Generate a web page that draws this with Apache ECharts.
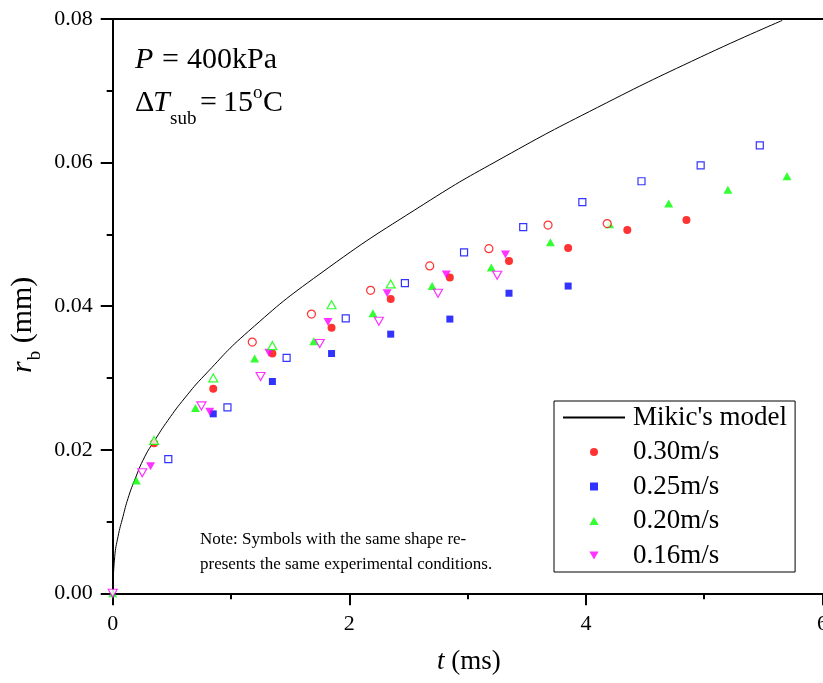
<!DOCTYPE html>
<html>
<head>
<meta charset="utf-8">
<script src="https://cdn.jsdelivr.net/npm/echarts@6/dist/echarts.min.js"></script>
<style>
html,body{margin:0;padding:0;background:#fff;}
#chart{width:823px;height:683px;}
</style>
</head>
<body>
<div id="chart"></div>
<script>
// ---- data (t in ms, r_b in mm) ----
const xTicks = [0, 2, 4, 6];
const yTicks = [0, 0.02, 0.04, 0.06, 0.08];

const mikicT = [0, 0.017, 0.045, 0.087, 0.129, 0.186, 0.27, 0.355, 0.467, 0.609, 0.778, 1.148, 1.752, 2.63, 3.3, 4.1, 4.97, 5.66];
const mikicR = [0, 0.0051, 0.0079, 0.0107, 0.0132, 0.0158, 0.019, 0.0213, 0.0241, 0.0272, 0.0304, 0.0365, 0.0445, 0.0542, 0.0607, 0.0677, 0.0747, 0.0798];

// 0.30 m/s
const t030 = [0.35, 0.85, 1.35, 1.85, 2.35, 2.85, 3.35, 3.85, 4.35, 4.85];
const r030 = [0.0209, 0.0285, 0.0334, 0.0370, 0.0410, 0.0440, 0.0463, 0.0481, 0.0506, 0.0520];
const t030o = [1.18, 1.68, 2.18, 2.68, 3.18, 3.68, 4.18];
const r030o = [0.0350, 0.0389, 0.0422, 0.0456, 0.0480, 0.0513, 0.0515];

// 0.25 m/s
const t025 = [0.85, 1.35, 1.85, 2.35, 2.85, 3.35, 3.85];
const r025 = [0.0250, 0.0295, 0.0334, 0.0361, 0.0382, 0.0418, 0.0428];
const t025o = [0.47, 0.97, 1.47, 1.97, 2.47, 2.97, 3.47, 3.97, 4.47, 4.97, 5.47];
const r025o = [0.0187, 0.0259, 0.0328, 0.0383, 0.0432, 0.0475, 0.0510, 0.0545, 0.0574, 0.0596, 0.0624];

// 0.20 m/s
const t020 = [0, 0.2, 0.7, 1.2, 1.7, 2.2, 2.7, 3.2, 3.7, 4.2, 4.7, 5.2, 5.7];
const r020 = [0, 0.0157, 0.0258, 0.0327, 0.0351, 0.0390, 0.0428, 0.0454, 0.0489, 0.0514, 0.0543, 0.0562, 0.0581];
const t020o = [0.35, 0.85, 1.35, 1.85, 2.35];
const r020o = [0.0213, 0.0300, 0.0345, 0.0402, 0.0431];

// 0.16 m/s
const t016 = [0.32, 0.82, 1.32, 1.82, 2.32, 2.82, 3.32];
const r016 = [0.0177, 0.0253, 0.0335, 0.0378, 0.0418, 0.0444, 0.0472];
const t016o = [0, 0.25, 0.75, 1.25, 1.75, 2.25, 2.75, 3.25];
const r016o = [0, 0.0168, 0.0261, 0.0302, 0.0348, 0.0379, 0.0418, 0.0443];

const legendNames = ["Mikic's model", '0.30m/s', '0.25m/s', '0.20m/s', '0.16m/s'];

// ---- helpers ----
const FF = '"Liberation Serif", "Times New Roman", serif';
const zip = (xs, ys) => xs.map((x, i) => [x, ys[i]]);
const mctx = document.createElement('canvas').getContext('2d');
function fontStr(size, italic) { return (italic ? 'italic ' : '') + size + 'px ' + FF; }
function run(x, baseline, parts) {
  let cx = x;
  return parts.map(p => {
    const f = fontStr(p.size, p.italic);
    mctx.font = f;
    const w = mctx.measureText(p.t).width;
    const px = (p.at !== undefined) ? x + p.at : cx;
    const el = {
      type: 'text', x: px, y: baseline + (p.dy || 0) - 0.3375 * p.size, z: 100,
      style: { text: p.t, font: f, fill: '#000', align: 'left', verticalAlign: 'middle' }
    };
    cx = px + w + (p.gap || 0);
    return el;
  });
}

const scatterBase = (name, data, symbol, size, color, opts) => Object.assign({
  name, type: 'scatter', data, symbol, symbolSize: size,
  itemStyle: { color: color }, z: 3
}, opts || {});
const openStyle = c => ({ itemStyle: { color: '#fff', borderColor: c, borderWidth: 1.2 }, z: 4 });

const RED = '#ff0000', BLUE = '#0000ff', GREEN = '#00ff00', MAG = '#ff00ff';
const ICON_SQ = 'path://M0,0L1,0L1,1L0,1Z';
const ICON_UP = 'path://M0.5,0L1,0.87L0,0.87Z';
const ICON_DN = 'path://M0,0L1,0L0.5,0.87Z';

const chart = echarts.init(document.getElementById('chart'), null, { renderer: 'canvas' });

const option = {
  animation: false,
  backgroundColor: '#fff',
  grid: { left: 112.7, right: 0.5, top: 19, bottom: 89.7, outerBoundsMode: 'none', containLabel: false },
  xAxis: [{
    type: 'value', min: xTicks[0], max: xTicks[xTicks.length - 1], interval: 2,
    axisLine: { show: true, onZero: false, lineStyle: { color: '#000', width: 2 } },
    axisTick: { show: true, length: 12, lineStyle: { color: '#000', width: 2 } },
    minorTick: { show: true, splitNumber: 2, length: 6, lineStyle: { color: '#000', width: 2 } },
    splitLine: { show: false },
    axisLabel: { margin: 20, fontFamily: FF, fontSize: 22, color: '#000', showMaxLabel: true, hideOverlap: false }
  }, {
    type: 'value', position: 'top', min: xTicks[0], max: xTicks[xTicks.length - 1],
    axisLine: { show: true, onZero: false, lineStyle: { color: '#000', width: 2 } },
    axisTick: { show: false }, axisLabel: { show: false }, splitLine: { show: false }
  }],
  yAxis: {
    type: 'value', min: yTicks[0], max: yTicks[yTicks.length - 1], interval: 0.02,
    axisLine: { show: true, onZero: false, lineStyle: { color: '#000', width: 2 } },
    axisTick: { show: true, length: 12, lineStyle: { color: '#000', width: 2 } },
    minorTick: { show: true, splitNumber: 2, length: 6, lineStyle: { color: '#000', width: 2 } },
    splitLine: { show: false },
    axisLabel: { margin: 20, fontFamily: FF, fontSize: 22, color: '#000', formatter: v => v.toFixed(2) }
  },
  legend: {
    orient: 'vertical', left: 554, top: 401,
    padding: [2, 8, 2, 8], itemWidth: 62, itemHeight: 8, itemGap: 5.5,
    borderColor: '#000', borderWidth: 1, backgroundColor: '#fff',
    symbolKeepAspect: true,
    textStyle: { fontFamily: FF, fontSize: 27, color: '#000', lineHeight: 29, padding: [0, 0, 0, 3] },
    data: [
      { name: legendNames[0], itemStyle: { color: 'rgba(0,0,0,0)', opacity: 0, borderWidth: 0 } },
      { name: legendNames[1], icon: 'circle' },
      { name: legendNames[2], icon: ICON_SQ },
      { name: legendNames[3], icon: ICON_UP },
      { name: legendNames[4], icon: ICON_DN, symbolRotate: 0 }
    ]
  },
  series: [
    {
      name: legendNames[0], type: 'line', data: zip(mikicT, mikicR),
      showSymbol: false, symbol: 'none', smooth: 0.5,
      lineStyle: { color: '#000', width: 1 }, itemStyle: { color: '#000' }, z: 2
    },
    scatterBase(legendNames[1], zip(t030, r030), 'circle', 8, RED),
    scatterBase(legendNames[2], zip(t025, r025), 'rect', 7, BLUE),
    scatterBase(legendNames[3], zip(t020, r020), 'triangle', [9, 8], GREEN),
    scatterBase(legendNames[4], zip(t016, r016), 'triangle', [9, 8], MAG, { symbolRotate: 180 }),
    scatterBase('0.30m/s (2)', zip(t030o, r030o), 'circle', 8, RED, openStyle(RED)),
    scatterBase('0.25m/s (2)', zip(t025o, r025o), 'rect', 7, BLUE, openStyle(BLUE)),
    scatterBase('0.20m/s (2)', zip(t020o, r020o), 'triangle', [9, 8], GREEN, openStyle(GREEN)),
    scatterBase('0.16m/s (2)', zip(t016o, r016o), 'triangle', [9, 8], MAG, Object.assign({ symbolRotate: 180 }, openStyle(MAG)))
  ],
  graphic: [
    // P = 400kPa
    ...run(135, 70, [
      { t: 'P', size: 30, italic: true },
      { t: '=', size: 30, at: 27 },
      { t: '400kPa', size: 30, at: 52 }
    ]),
    // ΔT_sub = 15°C
    ...run(135, 113, [
      { t: '\u0394', size: 30 },
      { t: 'T', size: 30, italic: true, at: 18 },
      { t: 'sub', size: 19, dy: 12, at: 35 },
      { t: '=', size: 30, at: 65 },
      { t: '15', size: 30, at: 88 },
      { t: 'o', size: 19, dy: -14, at: 118 },
      { t: 'C', size: 30, at: 128 }
    ]),
    // note
    ...run(200, 545, [{ t: 'Note: Symbols with the same shape re-', size: 17 }]),
    ...run(200, 570, [{ t: 'presents the same experimental conditions.', size: 17 }]),
    // x axis title
    ...run(437, 671, [
      { t: 't', size: 27, italic: true, gap: 0 },
      { t: ' (ms)', size: 27 }
    ]),
    // y axis title (rotated)
    {
      type: 'group', x: 33, y: 373, rotation: Math.PI / 2, z: 100,
      children: run(0, 0, [
        { t: 'r', size: 30, italic: true, gap: 1 },
        { t: 'b', size: 19, dy: 8 },
        { t: ' (mm)', size: 30 }
      ])
    }
  ]
};
chart.setOption(option);
</script>
</body>
</html>
